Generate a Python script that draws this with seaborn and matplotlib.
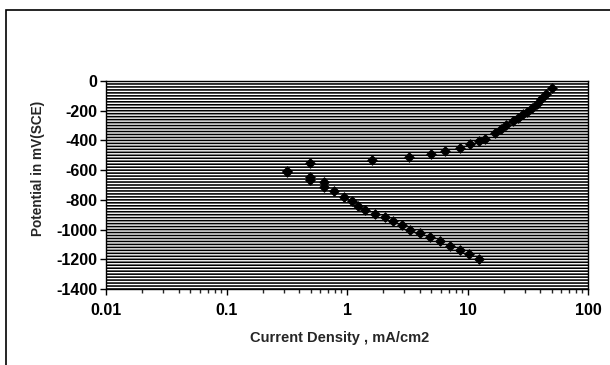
import matplotlib
matplotlib.use("Agg")
import matplotlib.pyplot as plt
import matplotlib.ticker as mticker
from matplotlib.patches import Rectangle
import seaborn as sns
import pandas as pd

# Anodic branch: current density (mA/cm2) and potential (mV vs SCE)
anodic_current = [0.32, 0.49, 1.6, 3.3, 5.0, 6.5, 8.7, 10.5, 12.5, 14.0, 17.0,
                  19.0, 21.0, 24.0, 26.0, 29.0, 31.0, 34.0, 37.5, 41.0, 45.0, 50.0]
anodic_potential = [-605, -555, -530, -512, -490, -470, -448, -425, -405, -388, -350,
                    -320, -298, -270, -250, -225, -208, -185, -155, -120, -85, -45]

# Cathodic branch
cathodic_current = [0.32, 0.49, 0.49, 0.64, 0.64, 0.78, 0.94, 1.1, 1.24, 1.41, 1.71,
                    2.07, 2.42, 2.84, 3.33, 4.03, 4.89, 5.9, 7.2, 8.7, 10.2, 12.5]
cathodic_potential = [-610, -648, -665, -680, -715, -740, -783, -810, -840, -868, -895,
                      -915, -940, -968, -1000, -1025, -1052, -1080, -1108, -1137, -1164, -1195]

x_ticks = [0.01, 0.1, 1, 10, 100]
x_tick_labels = ["0.01", "0.1", "1", "10", "100"]
y_ticks = [0, -200, -400, -600, -800, -1000, -1200, -1400]

sns.set_style("white")
plt.rcParams["font.family"] = ["Liberation Sans", "DejaVu Sans"]
plt.rcParams["font.weight"] = "bold"
plt.rcParams["axes.unicode_minus"] = False

W, H = 610, 365
fig = plt.figure(figsize=(W / 100, H / 100), dpi=100)
ax = fig.add_axes([106 / W, 1 - 289 / H, (588 - 106) / W, (289 - 81) / H])

anodic = pd.DataFrame({"current": anodic_current, "potential": anodic_potential})
cathodic = pd.DataFrame({"current": cathodic_current, "potential": cathodic_potential})

for df in (anodic, cathodic):
    sns.scatterplot(data=df, x="current", y="potential", ax=ax,
                    color="black", marker="D", s=24, edgecolor="black",
                    linewidth=0.6, zorder=5)

ax.set_xscale("log")
ax.set_xlim(0.01, 100)
ax.set_ylim(-1400, 0)

ax.set_xticks(x_ticks)
ax.set_xticklabels(x_tick_labels)
ax.xaxis.set_minor_locator(mticker.LogLocator(base=10, subs=range(2, 10)))
ax.xaxis.set_minor_formatter(mticker.NullFormatter())
ax.set_yticks(y_ticks)
ax.yaxis.set_minor_locator(mticker.MultipleLocator(20))

# Dense horizontal gridlines every 20 mV
ax.grid(False, axis="x", which="both")
ax.grid(True, axis="y", which="both", color="black", lw=1.15, snap=False)

ax.tick_params(axis="x", which="major", direction="out", length=4, width=1,
               labelsize=11.5, pad=6, colors="black", bottom=True)
ax.tick_params(axis="x", which="minor", direction="out", length=3, width=1,
               bottom=True)
ax.tick_params(axis="y", which="major", direction="out", length=4, width=1,
               labelsize=11.5, pad=2, colors="black", left=True)
ax.tick_params(axis="y", which="minor", length=0)

for s in ax.spines.values():
    s.set_color("black")
    s.set_linewidth(1.0)

ax.set_xlabel("Current Density , mA/cm2", fontsize=10.5, fontweight="bold")
ax.set_ylabel("Potential in mV(SCE)", fontsize=9.8, fontweight="bold")
ax.xaxis.set_label_coords(0.485, -0.236)
ax.xaxis.label.set_va("center")
ax.yaxis.set_label_coords(-0.141, 0.58)
ax.yaxis.label.set_va("center")

# Chart outer border
fig.add_artist(Rectangle((6 / W, -0.05), 1.1, 1 - 10 / H + 0.05,
                         transform=fig.transFigure, fill=False,
                         edgecolor="black", lw=1.2))

fig.savefig("out.png", dpi=100)
